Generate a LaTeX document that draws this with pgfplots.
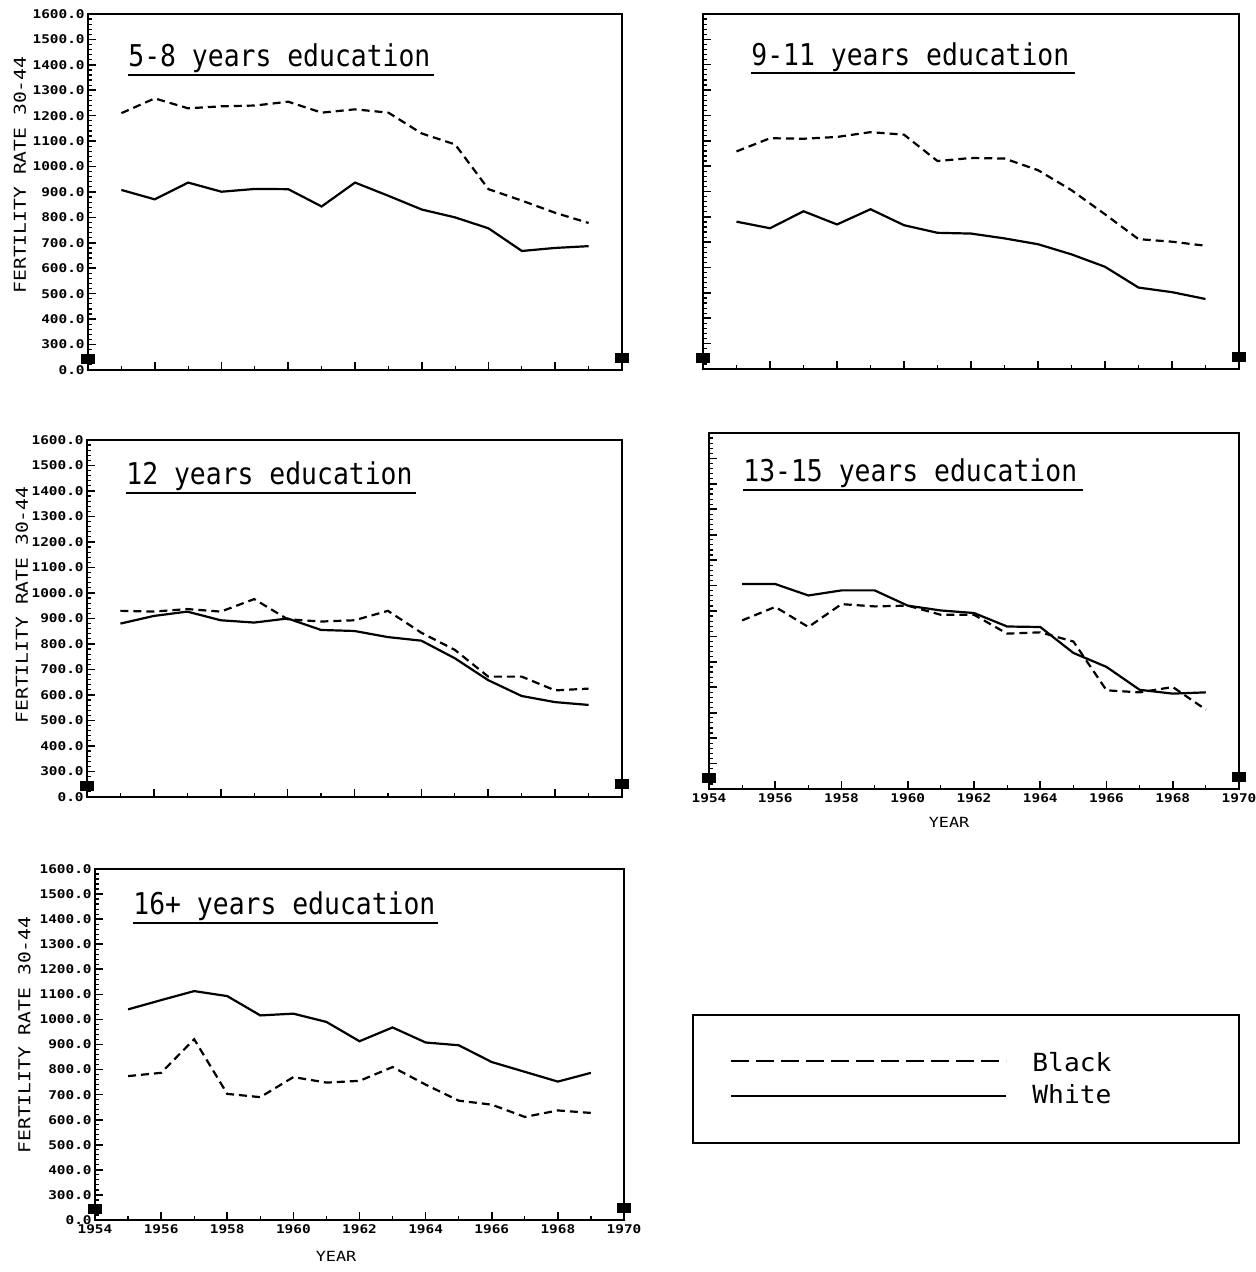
\documentclass[border=0pt]{standalone}
\usepackage{fontspec}
\setmainfont{DejaVu Sans Mono}
\newfontfamily\titlefont[FakeStretch=0.88]{DejaVu Sans Mono}
\newfontfamily\tickfont[FakeStretch=1.2]{DejaVu Sans Mono}
\newfontfamily\labfont[FakeStretch=1.2]{DejaVu Sans Mono}
\newfontfamily\legfont[FakeStretch=1.05]{DejaVu Sans Mono}
\usepackage{pgfplots}
\pgfplotsset{compat=1.18}

\pgfplotsset{
  panel/.style={
    scale only axis,
    anchor=south west,
    xmin=1954, xmax=1970,
    ymin=200, ymax=1600,
    axis line style={line width=1.2pt},
    tick align=inside,
    xtick pos=bottom, ytick pos=left,
    xtick={1954,1956,...,1970},
    minor xtick={1955,1957,...,1969},
    ytick={200,300,...,1600},
    minor ytick={220,240,...,1580},
    major tick length=4pt,
    minor tick length=2pt,
    major tick style={black, line width=0.8pt},
    minor tick style={black, line width=0.6pt},
    xticklabels={},
    yticklabels={},
    clip=false,
  },
  ylab/.style={
    yticklabels={0.0,300.0,400.0,500.0,600.0,700.0,800.0,900.0,1000.0,1100.0,1200.0,1300.0,1400.0,1500.0,1600.0},
    yticklabel style={font=\tickfont\bfseries\fontsize{6}{6}\selectfont, inner sep=1.5pt},
  },
  xlab/.style={
    xticklabels={1954,1956,1958,1960,1962,1964,1966,1968,1970},
    xticklabel style={font=\tickfont\bfseries\fontsize{6}{6}\selectfont, inner sep=2pt},
  },
  blk/.style={black, line width=1.1pt, dash pattern=on 4pt off 2.5pt},
  wht/.style={black, line width=1.1pt},
}
\newcommand\breakmarks{%
  \fill (rel axis cs:0,0.03) ++(-3.5pt,-2.5pt) rectangle ++(7pt,5pt);
  \fill (rel axis cs:1,0.035) ++(-3.5pt,-2.5pt) rectangle ++(7pt,5pt);
}
\newcommand\paneltitle[5]{% x, baseline y, underline end x, underline y, text
  \node[anchor=base west, inner sep=0pt, font=\titlefont\fontsize{15}{15}\selectfont] at (#1,#2) {#5};
  \draw[line width=1.1pt] (#1,#4) -- (#3,#4);
}

\begin{document}
\begin{tikzpicture}
\useasboundingbox (0,0) rectangle (627.5pt,636pt);

% Panel 1: 5-8 years
\begin{axis}[panel, ylab, at={(44pt,451pt)}, width=267pt, height=178pt]
\addplot[blk] coordinates {(1955,1210) (1956,1268) (1957,1229) (1958,1237) (1959,1240) (1960,1255) (1961,1212) (1962,1225) (1963,1212) (1964,1130) (1965,1087) (1966,911) (1967,866) (1968,818) (1969,778)};
\addplot[wht] coordinates {(1955,908) (1956,871) (1957,937) (1958,901) (1959,912) (1960,911) (1961,843) (1962,937) (1963,885) (1964,831) (1965,800) (1966,757) (1967,668) (1968,680) (1969,687)};
\breakmarks
\end{axis}

% Panel 2: 9-11 years
\begin{axis}[panel, at={(351.5pt,451.5pt)}, width=268pt, height=177.5pt]
\addplot[blk] coordinates {(1955,1058) (1956,1110) (1957,1108) (1958,1115) (1959,1134) (1960,1124) (1961,1020) (1962,1032) (1963,1030) (1964,984) (1965,905) (1966,810) (1967,712) (1968,702) (1969,686)};
\addplot[wht] coordinates {(1955,781) (1956,755) (1957,822) (1958,770) (1959,830) (1960,767) (1961,737) (1962,734) (1963,715) (1964,692) (1965,652) (1966,603) (1967,521) (1968,503) (1969,476)};
\breakmarks
\end{axis}

% Panel 3: 12 years
\begin{axis}[panel, ylab, at={(43.5pt,237.5pt)}, width=267.5pt, height=178.5pt]
\addplot[blk] coordinates {(1955,930) (1956,927) (1957,937) (1958,927) (1959,976) (1960,897) (1961,888) (1962,893) (1963,930) (1964,844) (1965,777) (1966,672) (1967,672) (1968,618) (1969,625)};
\addplot[wht] coordinates {(1955,880) (1956,910) (1957,927) (1958,893) (1959,884) (1960,900) (1961,855) (1962,851) (1963,827) (1964,813) (1965,744) (1966,658) (1967,596) (1968,572) (1969,561)};
\breakmarks
\end{axis}

% Panel 4: 13-15 years
\begin{axis}[panel, xlab, at={(354.5pt,241.5pt)}, width=265pt, height=178pt]
\addplot[blk] coordinates {(1955,863) (1956,916) (1957,837) (1958,927) (1959,918) (1960,921) (1961,885) (1962,885) (1963,811) (1964,816) (1965,780) (1966,588) (1967,580) (1968,601) (1969,512)};
\addplot[wht] coordinates {(1955,1006) (1956,1006) (1957,961) (1958,981) (1959,981) (1960,921) (1961,902) (1962,892) (1963,839) (1964,837) (1965,735) (1966,680) (1967,590) (1968,575) (1969,580)};
\breakmarks
\end{axis}

% Panel 5: 16+ years
\begin{axis}[panel, ylab, xlab, at={(47.5pt,26pt)}, width=264.5pt, height=175.5pt]
\addplot[blk] coordinates {(1955,774) (1956,787) (1957,921) (1958,703) (1959,690) (1960,770) (1961,748) (1962,755) (1963,810) (1964,740) (1965,676) (1966,660) (1967,611) (1968,637) (1969,627)};
\addplot[wht] coordinates {(1955,1040) (1956,1077) (1957,1113) (1958,1093) (1959,1016) (1960,1023) (1961,990) (1962,913) (1963,968) (1964,908) (1965,897) (1966,830) (1967,791) (1968,752) (1969,787)};
\breakmarks
\end{axis}

% Titles
\paneltitle{64pt}{602.5pt}{217pt}{598.5pt}{5-8 years education}
\paneltitle{375.5pt}{603pt}{537.5pt}{599.5pt}{9-11 years education}
\paneltitle{63pt}{393.5pt}{208pt}{389.5pt}{12 years education}
\paneltitle{371.5pt}{395pt}{541.5pt}{391pt}{13-15 years education}
\paneltitle{66.5pt}{178.5pt}{219pt}{174.5pt}{16+ years education}

% Axis labels
\begin{scope}[every node/.style={font=\labfont\fontsize{8.2}{8.2}\selectfont, inner sep=0pt}]
\node[rotate=90] at (10pt,548.5pt) {FERTILITY RATE 30-44};
\node[rotate=90] at (11pt,333.5pt) {FERTILITY RATE 30-44};
\node[rotate=90] at (12.25pt,118.5pt) {FERTILITY RATE 30-44};
\end{scope}
\begin{scope}[every node/.style={font=\labfont\fontsize{7}{7}\selectfont, inner sep=0pt}]
\node at (474.5pt,224.6pt) {YEAR};
\node at (168pt,7.6pt) {YEAR};
\end{scope}

% Legend
\draw[line width=1.2pt] (346.5pt,64.5pt) rectangle (619.5pt,128.5pt);
\draw[line width=1pt, dash pattern=on 9pt off 3.5pt] (365.5pt,105.6pt) -- (503pt,105.6pt);
\draw[line width=1pt] (365.5pt,88.2pt) -- (503pt,88.2pt);
\node[anchor=base west, inner sep=0pt, font=\legfont\fontsize{12.5}{12.5}\selectfont] at (516pt,100.2pt) {Black};
\node[anchor=base west, inner sep=0pt, font=\legfont\fontsize{12.5}{12.5}\selectfont] at (516pt,84pt) {White};
\end{tikzpicture}
\end{document}
